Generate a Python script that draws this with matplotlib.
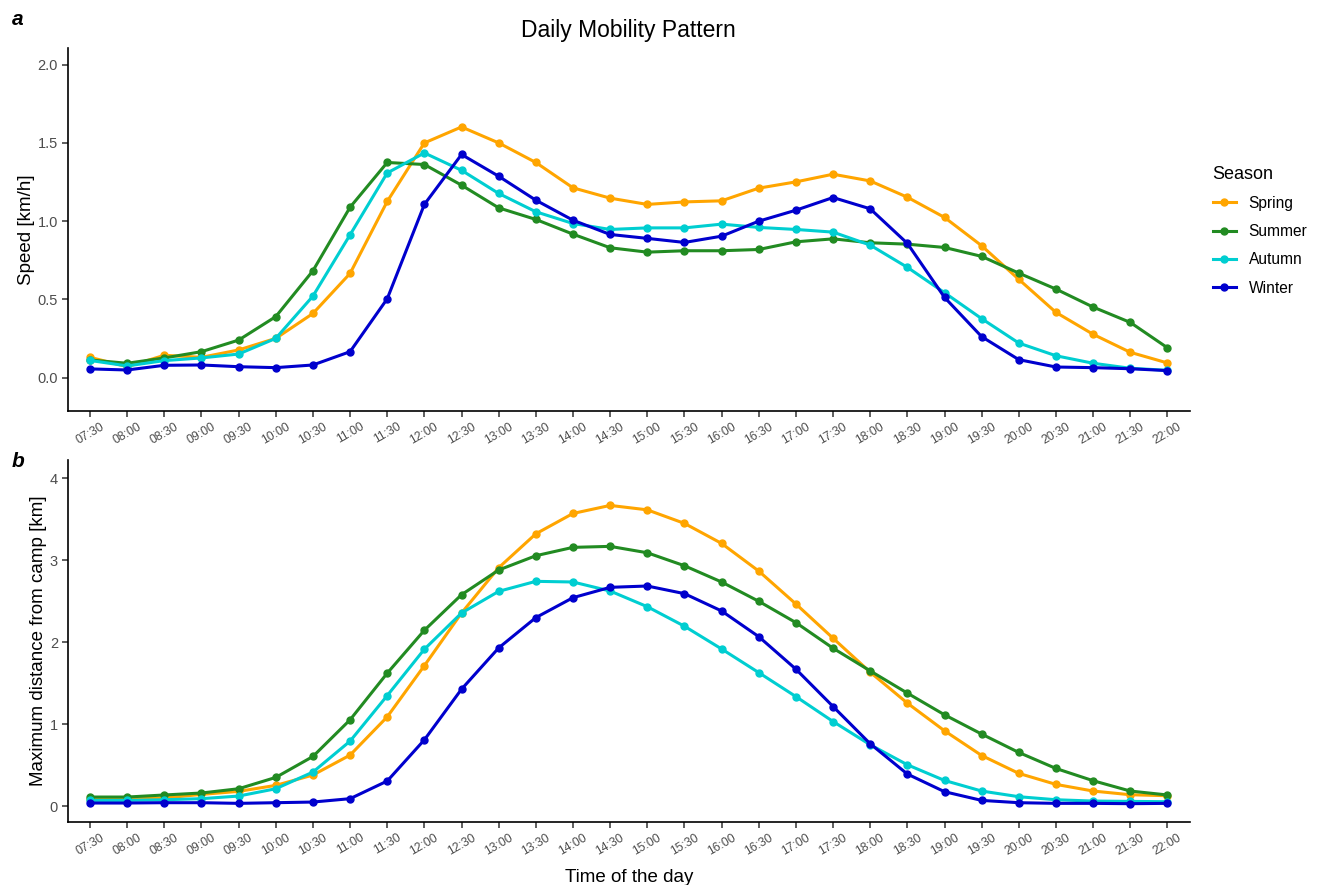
import numpy as np
import matplotlib
matplotlib.use("Agg")
import matplotlib.pyplot as plt

plt.rcParams['font.family'] = ['Liberation Sans', 'DejaVu Sans']

times = ["07:30", "08:00", "08:30", "09:00", "09:30", "10:00", "10:30", "11:00", "11:30", "12:00",
         "12:30", "13:00", "13:30", "14:00", "14:30", "15:00", "15:30", "16:00", "16:30", "17:00",
         "17:30", "18:00", "18:30", "19:00", "19:30", "20:00", "20:30", "21:00", "21:30", "22:00"]
seasons = ["Spring", "Summer", "Autumn", "Winter"]
colors = ["orange", "forestgreen", "darkturquoise", "mediumblue"]

# speed [km/h]
speed_spring = [0.13, 0.07, 0.143, 0.13, 0.177, 0.251, 0.41, 0.666, 1.126, 1.5,
                1.602, 1.5, 1.375, 1.213, 1.147, 1.107, 1.123, 1.13, 1.211, 1.251,
                1.3, 1.257, 1.153, 1.024, 0.843, 0.628, 0.417, 0.277, 0.162, 0.094]
speed_summer = [0.113, 0.092, 0.126, 0.166, 0.24, 0.39, 0.683, 1.089, 1.375, 1.362,
                1.23, 1.085, 1.011, 0.917, 0.83, 0.802, 0.811, 0.811, 0.819, 0.868,
                0.887, 0.862, 0.853, 0.832, 0.775, 0.668, 0.566, 0.451, 0.353, 0.191]
speed_autumn = [0.11, 0.075, 0.109, 0.126, 0.151, 0.251, 0.521, 0.913, 1.308, 1.436,
                1.325, 1.177, 1.06, 0.985, 0.947, 0.957, 0.957, 0.981, 0.96, 0.947,
                0.93, 0.847, 0.705, 0.543, 0.377, 0.221, 0.14, 0.092, 0.06, 0.047]
speed_winter = [0.056, 0.049, 0.079, 0.081, 0.07, 0.064, 0.081, 0.166, 0.504, 1.107,
                1.426, 1.287, 1.134, 1.006, 0.915, 0.89, 0.864, 0.904, 1.0, 1.07,
                1.151, 1.079, 0.858, 0.513, 0.262, 0.115, 0.068, 0.064, 0.057, 0.045]

# max distance from camp [km]
dist_spring = [0.09, 0.09, 0.102, 0.146, 0.183, 0.256, 0.382, 0.625, 1.091, 1.715,
               2.356, 2.908, 3.321, 3.569, 3.667, 3.613, 3.448, 3.204, 2.867, 2.466,
               2.049, 1.635, 1.258, 0.921, 0.62, 0.402, 0.268, 0.187, 0.142, 0.13]
dist_summer = [0.114, 0.114, 0.139, 0.163, 0.215, 0.353, 0.608, 1.055, 1.623, 2.146,
               2.579, 2.88, 3.054, 3.156, 3.168, 3.09, 2.932, 2.734, 2.499, 2.239,
               1.927, 1.651, 1.38, 1.116, 0.881, 0.657, 0.462, 0.313, 0.187, 0.139]
dist_autumn = [0.073, 0.073, 0.081, 0.094, 0.126, 0.215, 0.418, 0.795, 1.35, 1.915,
               2.356, 2.62, 2.742, 2.734, 2.624, 2.433, 2.195, 1.918, 1.63, 1.338,
               1.034, 0.751, 0.507, 0.316, 0.187, 0.118, 0.081, 0.065, 0.061, 0.057]
dist_winter = [0.041, 0.041, 0.045, 0.045, 0.037, 0.045, 0.053, 0.094, 0.309, 0.811,
               1.428, 1.931, 2.3, 2.543, 2.669, 2.685, 2.592, 2.381, 2.068, 1.672,
               1.217, 0.763, 0.394, 0.179, 0.073, 0.045, 0.037, 0.037, 0.033, 0.037]

speed = [speed_spring, speed_summer, speed_autumn, speed_winter]
dist = [dist_spring, dist_summer, dist_autumn, dist_winter]

fig = plt.figure(figsize=(13.2, 8.85), dpi=100)
ax1 = fig.add_axes([0.0513, 0.5356, 0.8500, 0.4099])
ax2 = fig.add_axes([0.0513, 0.0712, 0.8500, 0.4090])

x = np.arange(len(times))


def style(ax, ylim, yticks, yticklabels, ylabel):
    ax.set_xlim(-0.6, len(times) - 0.4)
    ax.set_ylim(*ylim)
    ax.set_yticks(yticks)
    ax.set_yticklabels(yticklabels, fontsize=10.5, color="#4D4D4D")
    ax.set_xticks(x)
    ax.set_xticklabels(times, rotation=30, fontsize=8.8, color="#4D4D4D",
                       ha="center", va="top")
    ax.set_ylabel(ylabel, fontsize=13.5, labelpad=2)
    for s in ["top", "right"]:
        ax.spines[s].set_visible(False)
    for s in ["left", "bottom"]:
        ax.spines[s].set_linewidth(1.2)
    ax.tick_params(axis="both", length=4, width=1.1, color="#333333", pad=3)


for vals, name, c in zip(speed, seasons, colors):
    ax1.plot(x, vals, color=c, lw=2.2, marker="o", ms=5, label=name)
for vals, name, c in zip(dist, seasons, colors):
    ax2.plot(x, vals, color=c, lw=2.2, marker="o", ms=5)

style(ax1, (-0.213, 2.105), [0, 0.5, 1.0, 1.5, 2.0], ["0.0", "0.5", "1.0", "1.5", "2.0"], "Speed [km/h]")
style(ax2, (-0.19, 4.22), [0, 1, 2, 3, 4], ["0", "1", "2", "3", "4"], "Maximum distance from camp [km]")
ax2.set_xlabel("Time of the day", fontsize=13.5, labelpad=8)

ax1.set_title("Daily Mobility Pattern", fontsize=16.5, pad=8)

leg = ax1.legend(title="Season", loc="upper left", bbox_to_anchor=(1.008, 0.715),
                 frameon=False, fontsize=11.2, title_fontsize=13,
                 handlelength=1.5, handletextpad=0.8, labelspacing=0.85,
                 alignment="left")

fig.text(0.009, 0.972, "a", fontsize=15, fontweight="bold", fontstyle="italic")
fig.text(0.009, 0.472, "b", fontsize=15, fontweight="bold", fontstyle="italic")

fig.savefig("out.png", dpi=100)
